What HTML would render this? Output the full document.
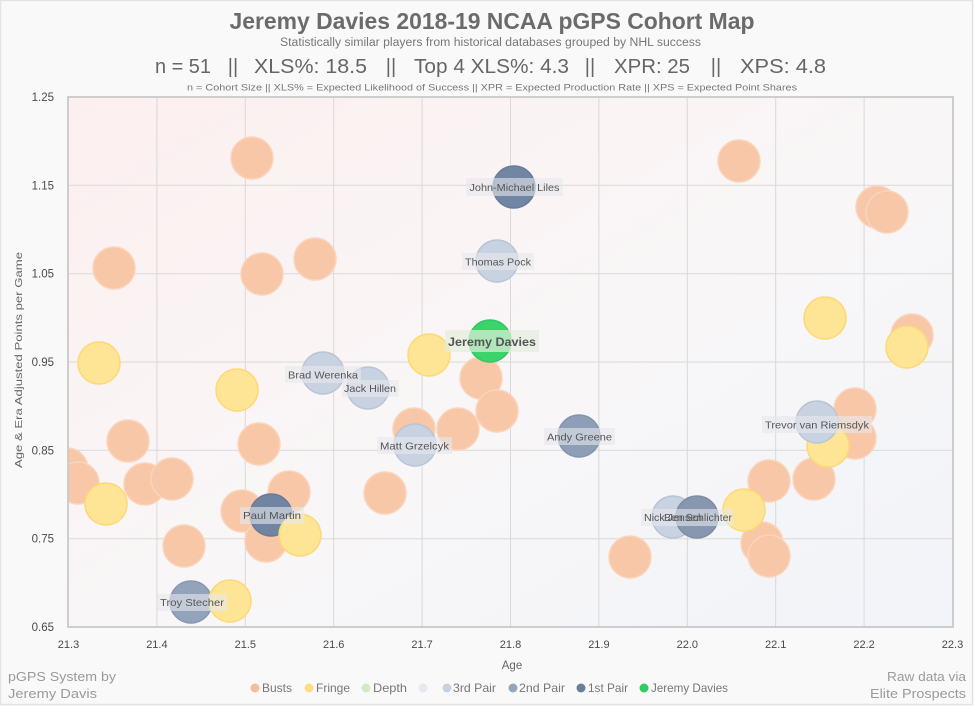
<!DOCTYPE html>
<html><head><meta charset="utf-8"><style>
html,body{margin:0;padding:0;background:#f9f9f9;}
svg{display:block;}
text{font-family:"Liberation Sans",sans-serif;}
</style></head><body>
<svg width="974" height="706" viewBox="0 0 974 706" xmlns="http://www.w3.org/2000/svg">
<defs>
<linearGradient id="bg" x1="0" y1="0" x2="1" y2="1">
<stop offset="0" stop-color="#fcefef"/>
<stop offset="0.5" stop-color="#f9f6f7"/>
<stop offset="1" stop-color="#f1f4f9"/>
</linearGradient>
<clipPath id="pc"><rect x="68" y="97" width="885" height="530"/></clipPath>
</defs>
<rect x="0.5" y="0.5" width="972" height="704" fill="#f9f9f9" stroke="#e3e3e3" stroke-width="1.5"/>

<!-- Titles -->
<text x="492" y="29" text-anchor="middle" font-size="23" font-weight="bold" fill="#6b6b6b" textLength="525" lengthAdjust="spacingAndGlyphs">Jeremy Davies 2018-19 NCAA pGPS Cohort Map</text>
<text x="490.5" y="46" text-anchor="middle" font-size="11.5" fill="#777" textLength="421" lengthAdjust="spacingAndGlyphs">Statistically similar players from historical databases grouped by NHL success</text>
<g font-size="20" fill="#666">
<text x="155" y="73" textLength="56" lengthAdjust="spacingAndGlyphs">n = 51</text>
<text x="233" y="73" text-anchor="middle">||</text>
<text x="254" y="73" textLength="113" lengthAdjust="spacingAndGlyphs">XLS%: 18.5</text>
<text x="391" y="73" text-anchor="middle">||</text>
<text x="414" y="73" textLength="155" lengthAdjust="spacingAndGlyphs">Top 4 XLS%: 4.3</text>
<text x="590" y="73" text-anchor="middle">||</text>
<text x="614" y="73" textLength="76" lengthAdjust="spacingAndGlyphs">XPR: 25</text>
<text x="716" y="73" text-anchor="middle">||</text>
<text x="740" y="73" textLength="86" lengthAdjust="spacingAndGlyphs">XPS: 4.8</text>
</g>
<text x="492" y="90.5" text-anchor="middle" font-size="9" fill="#777" textLength="610" lengthAdjust="spacingAndGlyphs">n = Cohort Size || XLS% = Expected Likelihood of Success || XPR = Expected Production Rate || XPS = Expected Point Shares</text>

<!-- Plot area -->
<rect x="68" y="97" width="885" height="530" fill="url(#bg)"/>
<g stroke="#d9d9d9" stroke-width="1">
<line x1="156.9" y1="97" x2="156.9" y2="627"/>
<line x1="245.3" y1="97" x2="245.3" y2="627"/>
<line x1="333.7" y1="97" x2="333.7" y2="627"/>
<line x1="422.1" y1="97" x2="422.1" y2="627"/>
<line x1="510.5" y1="97" x2="510.5" y2="627"/>
<line x1="598.9" y1="97" x2="598.9" y2="627"/>
<line x1="687.3" y1="97" x2="687.3" y2="627"/>
<line x1="775.7" y1="97" x2="775.7" y2="627"/>
<line x1="864.1" y1="97" x2="864.1" y2="627"/>
<line x1="68" y1="185.3" x2="953" y2="185.3"/>
<line x1="68" y1="273.7" x2="953" y2="273.7"/>
<line x1="68" y1="362" x2="953" y2="362"/>
<line x1="68" y1="450.3" x2="953" y2="450.3"/>
<line x1="68" y1="538.7" x2="953" y2="538.7"/>
</g>

<g clip-path="url(#pc)">
<!-- Busts -->
<g fill="#f8c7a7" stroke="#fad4bb" stroke-width="1.5">
<circle cx="252" cy="158" r="21"/><circle cx="114" cy="268" r="21"/><circle cx="262" cy="274" r="21"/><circle cx="315" cy="259" r="21"/>
<circle cx="481" cy="378" r="21"/><circle cx="497" cy="411" r="21"/><circle cx="739" cy="161" r="21"/><circle cx="877" cy="207" r="21"/>
<circle cx="887" cy="212" r="21"/><circle cx="912" cy="335" r="21"/><circle cx="769" cy="481" r="21"/><circle cx="762" cy="543" r="21"/>
<circle cx="769" cy="556" r="21"/><circle cx="630" cy="557" r="21"/><circle cx="814" cy="479" r="21"/><circle cx="855" cy="409" r="21"/>
<circle cx="855" cy="438" r="21"/><circle cx="128" cy="441" r="21"/><circle cx="67" cy="469" r="21"/><circle cx="78" cy="483" r="21"/>
<circle cx="145" cy="484" r="21"/><circle cx="172" cy="479" r="21"/><circle cx="184" cy="546" r="21"/><circle cx="259" cy="444" r="21"/>
<circle cx="242" cy="511" r="21"/><circle cx="289" cy="492" r="21"/><circle cx="266" cy="541" r="21"/><circle cx="385" cy="493" r="21"/>
<circle cx="414" cy="429" r="21"/><circle cx="458" cy="429" r="21"/>
</g>
<!-- Paul Martin (1st), Troy Stecher (2nd) -->
<circle cx="271" cy="515" r="21" fill="#7185a2" stroke="#677b99" stroke-width="1.5"/>
<circle cx="191" cy="602" r="21" fill="#93a3bb" stroke="#8798b1" stroke-width="1.5"/>
<!-- Fringe -->
<g fill="#fee596" stroke="#fdd874" stroke-width="1.5">
<circle cx="99" cy="363" r="21"/><circle cx="429" cy="355" r="21"/><circle cx="237" cy="390" r="21"/><circle cx="825" cy="318" r="21"/>
<circle cx="907" cy="347" r="21"/><circle cx="744" cy="510" r="21"/><circle cx="828" cy="446" r="21"/><circle cx="106" cy="504" r="21"/>
<circle cx="230" cy="601" r="21"/><circle cx="300" cy="535" r="21"/>
</g>
<!-- 3rd pair -->
<g fill="#c9d2e0" stroke="#b9c4d5" stroke-width="1.5">
<circle cx="323" cy="373" r="21"/><circle cx="368" cy="388" r="21"/><circle cx="497" cy="261" r="21"/>
<circle cx="673" cy="517" r="21"/><circle cx="817" cy="422" r="21"/><circle cx="415" cy="445" r="21"/>
</g>
<!-- 2nd pair -->
<circle cx="579" cy="436" r="21" fill="#8e9eb6" stroke="#8394ae" stroke-width="1.5"/>
<circle cx="697" cy="517" r="21" fill="#8797b0" stroke="#7b8ca7" stroke-width="1.5"/>
<!-- 1st pair -->
<circle cx="514" cy="187" r="21" fill="#7186a3" stroke="#677c9a" stroke-width="1.5"/>
<!-- Jeremy Davies -->
<circle cx="490" cy="341" r="21" fill="#3bd46b" stroke="#31c761" stroke-width="1.5"/>
</g>

<!-- plot border -->
<rect x="68" y="97" width="885" height="530" fill="none" stroke="#c9c9c9" stroke-width="1.8"/>

<!-- bubble labels -->
<g font-size="10.5" fill="#555">
<rect x="466" y="178" width="97" height="18" fill="#e6e8ec" fill-opacity="0.6"/>
<text x="514.5" y="191" text-anchor="middle" textLength="90" lengthAdjust="spacingAndGlyphs">John-Michael Liles</text>
<rect x="462" y="253" width="72" height="17" fill="#e6e8ec" fill-opacity="0.6"/>
<text x="498" y="265.5" text-anchor="middle" textLength="66" lengthAdjust="spacingAndGlyphs">Thomas Pock</text>
<rect x="285" y="366" width="76" height="17" fill="#e6e8ec" fill-opacity="0.6"/>
<text x="323" y="378.5" text-anchor="middle" textLength="70" lengthAdjust="spacingAndGlyphs">Brad Werenka</text>
<rect x="342" y="380" width="57" height="17" fill="#e6e8ec" fill-opacity="0.6"/>
<text x="370" y="392" text-anchor="middle" textLength="52" lengthAdjust="spacingAndGlyphs">Jack Hillen</text>
<rect x="377" y="437" width="75" height="17" fill="#e6e8ec" fill-opacity="0.6"/>
<text x="414.5" y="449.5" text-anchor="middle" textLength="69" lengthAdjust="spacingAndGlyphs">Matt Grzelcyk</text>
<rect x="240" y="507" width="64" height="17" fill="#e6e8ec" fill-opacity="0.6"/>
<text x="272" y="519" text-anchor="middle" textLength="58" lengthAdjust="spacingAndGlyphs">Paul Martin</text>
<rect x="157" y="594" width="70" height="17" fill="#e6e8ec" fill-opacity="0.6"/>
<text x="192" y="606" text-anchor="middle" textLength="64" lengthAdjust="spacingAndGlyphs">Troy Stecher</text>
<rect x="544" y="428" width="71" height="17" fill="#e6e8ec" fill-opacity="0.6"/>
<text x="579.5" y="440.5" text-anchor="middle" textLength="65" lengthAdjust="spacingAndGlyphs">Andy Greene</text>
<rect x="641" y="509" width="92" height="17" fill="#e6e8ec" fill-opacity="0.6"/>
<text x="673" y="521" text-anchor="middle" textLength="58" lengthAdjust="spacingAndGlyphs">Nick Jensen</text>
<text x="698" y="521" text-anchor="middle" textLength="68" lengthAdjust="spacingAndGlyphs">Ben Schlichter</text>
<rect x="762" y="416" width="110" height="17" fill="#e6e8ec" fill-opacity="0.6"/>
<text x="817" y="428.5" text-anchor="middle" textLength="104" lengthAdjust="spacingAndGlyphs">Trevor van Riemsdyk</text>
<rect x="445" y="330" width="94" height="22" fill="#e4eedd" fill-opacity="0.7"/>
<text x="492" y="346" text-anchor="middle" font-size="12" font-weight="bold" fill="#555" textLength="88" lengthAdjust="spacingAndGlyphs">Jeremy Davies</text>
</g>

<!-- Y tick labels -->
<g font-size="11.5" fill="#4a4a4a" text-anchor="end">
<text x="54" y="101">1.25</text>
<text x="54" y="189.3">1.15</text>
<text x="54" y="277.7">1.05</text>
<text x="54" y="366">0.95</text>
<text x="54" y="454.3">0.85</text>
<text x="54" y="542.7">0.75</text>
<text x="54" y="631">0.65</text>
</g>
<!-- X tick labels -->
<g font-size="11" fill="#4a4a4a" text-anchor="middle">
<text x="68.5" y="648">21.3</text>
<text x="156.9" y="648">21.4</text>
<text x="245.3" y="648">21.5</text>
<text x="333.7" y="648">21.6</text>
<text x="422.1" y="648">21.7</text>
<text x="510.5" y="648">21.8</text>
<text x="598.9" y="648">21.9</text>
<text x="687.3" y="648">22.0</text>
<text x="775.7" y="648">22.1</text>
<text x="864.1" y="648">22.2</text>
<text x="952.5" y="648">22.3</text>
</g>

<!-- Axis titles -->
<text x="512" y="669" text-anchor="middle" font-size="11.5" fill="#666">Age</text>
<text transform="translate(22,360) rotate(-90)" text-anchor="middle" font-size="10.5" fill="#666" textLength="216" lengthAdjust="spacingAndGlyphs">Age &amp; Era Adjusted Points per Game</text>

<!-- Legend -->
<g font-size="12" fill="#777">
<circle cx="255" cy="688" r="4.5" fill="#f6bc9c"/><text x="262" y="692" textLength="30" lengthAdjust="spacingAndGlyphs">Busts</text>
<circle cx="309" cy="688" r="4.5" fill="#fddd84"/><text x="316" y="692" textLength="34" lengthAdjust="spacingAndGlyphs">Fringe</text>
<circle cx="366" cy="688" r="4.5" fill="#d3e9c9"/><text x="373" y="692" textLength="34" lengthAdjust="spacingAndGlyphs">Depth</text>
<circle cx="423" cy="688" r="4.5" fill="#e6e8ee"/>
<circle cx="447" cy="688" r="4.5" fill="#c8d1df"/><text x="453" y="692" textLength="43" lengthAdjust="spacingAndGlyphs">3rd Pair</text>
<circle cx="513" cy="688" r="4.5" fill="#95a5bc"/><text x="519" y="692" textLength="46" lengthAdjust="spacingAndGlyphs">2nd Pair</text>
<circle cx="581" cy="688" r="4.5" fill="#6a7e9b"/><text x="588" y="692" textLength="40" lengthAdjust="spacingAndGlyphs">1st Pair</text>
<circle cx="644" cy="688" r="4.5" fill="#2fcf5f"/><text x="651" y="692" textLength="77" lengthAdjust="spacingAndGlyphs">Jeremy Davies</text>
</g>

<!-- Footers -->
<g font-size="13" fill="#9a9a9a">
<text x="8" y="681" textLength="108" lengthAdjust="spacingAndGlyphs">pGPS System by</text>
<text x="8" y="698" textLength="89" lengthAdjust="spacingAndGlyphs">Jeremy Davis</text>
<text x="966" y="681" text-anchor="end" textLength="79" lengthAdjust="spacingAndGlyphs">Raw data via</text>
<text x="966" y="698" text-anchor="end" textLength="96" lengthAdjust="spacingAndGlyphs">Elite Prospects</text>
</g>
</svg>
</body></html>
